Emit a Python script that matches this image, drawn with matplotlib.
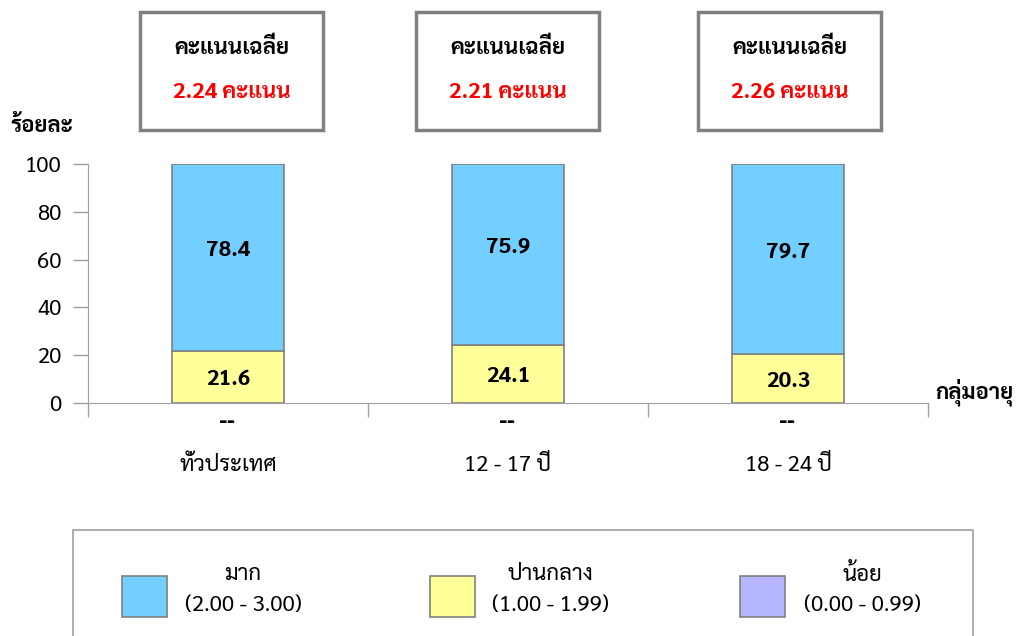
import matplotlib
matplotlib.use("Agg")
import matplotlib.pyplot as plt
from matplotlib.patches import Rectangle

plt.rcParams['font.family'] = ['Sarabun', 'Noto Sans Thai Looped', 'DejaVu Sans']

# ข้อมูล
groups = ['ทั่วประเทศ', '12 - 17 ปี', '18 - 24 ปี']
mid = [21.6, 24.1, 20.3]      # ปานกลาง
high = [78.4, 75.9, 79.7]     # มาก
low = [0, 0, 0]               # น้อย
avg_score = [2.24, 2.21, 2.26]
legend_names = ['มาก', 'ปานกลาง', 'น้อย']
legend_ranges = ['(2.00 - 3.00)', '(1.00 - 1.99)', '(0.00 - 0.99)']
colors = ['#72CFFF', '#FFFF99', '#B4B4FF']
edge = '#808080'

fig = plt.figure(figsize=(10.28, 6.36), dpi=100)
ax = fig.add_axes([88/1028, 1-403/636, 840/1028, 239/636])

x = range(len(groups))
ax.bar(x, mid, width=0.4, color=colors[1], edgecolor=edge, linewidth=1.2, zorder=3)
ax.bar(x, high, width=0.4, bottom=mid, color=colors[0], edgecolor=edge, linewidth=1.2, zorder=3)

for i in x:
    ax.text(i, mid[i]/2 - 1, f'{mid[i]:.1f}', ha='center', va='center',
            fontsize=16, fontweight='bold')
    ax.text(i, mid[i] + high[i]/2 + 3, f'{high[i]:.1f}', ha='center', va='center',
            fontsize=16, fontweight='bold')
    # ค่าของกลุ่ม "น้อย" (ไม่มีข้อมูล)
    ax.text(i, -8, '--', ha='center', va='center', fontsize=15, fontweight='bold',
            family='DejaVu Sans')

ax.set_xlim(-0.5, 2.5)
ax.set_ylim(0, 100)
ax.set_yticks([0, 20, 40, 60, 80, 100])
ax.tick_params(axis='y', labelsize=16, length=11, width=1, color='#A0A0A0', pad=8)
ax.set_xticks([-0.5, 0.5, 1.5, 2.5])
ax.set_xticklabels([])
ax.tick_params(axis='x', length=10, width=1, color='#A0A0A0')
for i, g in enumerate(groups):
    ax.text(i, -26, g, ha='center', va='center', fontsize=16)
for s in ['top', 'right']:
    ax.spines[s].set_visible(False)
ax.spines['left'].set_color('#A0A0A0')
ax.spines['bottom'].set_color('#A0A0A0')
ax.spines['left'].set_bounds(0, 100)

fig.text(10/1028, 1-126/636, 'ร้อยละ', fontsize=16, fontweight='bold', va='center')
fig.text(935/1028, 1-392/636, 'กลุ่มอายุ', fontsize=16, fontweight='bold', va='center')

# กล่องคะแนนเฉลี่ยรายกลุ่ม
box_left = [140, 416, 698]
for i in range(3):
    fig.patches.append(Rectangle((box_left[i]/1028, 1-130/636), 183/1028, 118/636,
                                 transform=fig.transFigure, fill=False,
                                 ec='#808080', lw=2.5))
    cx = (box_left[i] + 91.5)/1028
    fig.text(cx, 1-48/636, 'คะแนนเฉลี่ย', ha='center', va='center',
             fontsize=16, fontweight='bold')
    fig.text(cx, 1-92/636, f'{avg_score[i]:.2f} คะแนน', ha='center', va='center',
             fontsize=16, fontweight='bold', color='red')

# คำอธิบายสัญลักษณ์
fig.patches.append(Rectangle((73/1028, -0.05), 900/1028, 1-530/636 + 0.05,
                             transform=fig.transFigure, fill=False, ec='#A0A0A0', lw=1.2))
patch_x = [122, 430, 740]
text_x = [243, 550, 862]
for k in range(3):
    fig.patches.append(Rectangle((patch_x[k]/1028, 1-617/636), 45/1028, 41/636,
                                 transform=fig.transFigure, fc=colors[k], ec=edge, lw=1.2))
    fig.text(text_x[k]/1028, 1-575/636, legend_names[k], ha='center', va='center', fontsize=16)
    fig.text(text_x[k]/1028, 1-606/636, legend_ranges[k], ha='center', va='center', fontsize=16)

fig.savefig('out.png')
